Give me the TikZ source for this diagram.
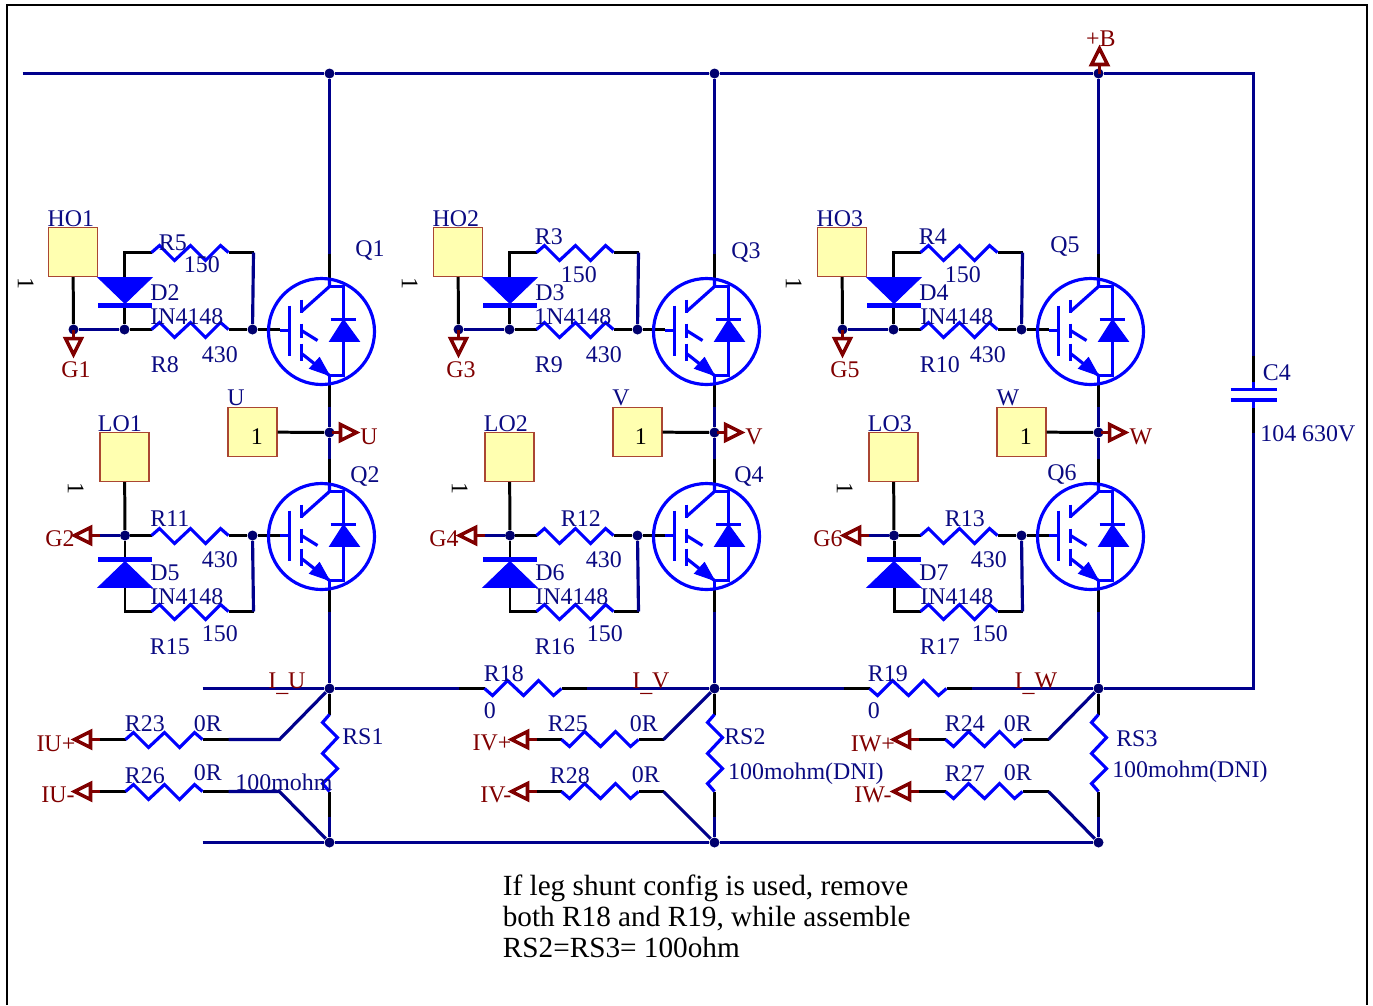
\documentclass[tikz,border=0pt]{standalone}
\usepackage{fontspec}
\setmainfont{Liberation Serif}
\definecolor{wirec}{RGB}{0,0,140}
\definecolor{dotc}{RGB}{0,0,110}
\definecolor{symc}{RGB}{0,0,255}
\definecolor{txtc}{RGB}{10,10,130}
\definecolor{portc}{RGB}{128,0,0}
\definecolor{padc}{RGB}{255,255,176}
\definecolor{padl}{RGB}{170,70,50}
\newcommand{\lowbar}{\raisebox{-1.6pt}{\_}}
\tikzset{
	wire/.style={draw=wirec,line width=1.8pt},
	pin/.style={draw=black,line width=1.7pt},
	sym/.style={draw=symc,line width=1.8pt},
	symfill/.style={fill=symc,draw=symc,line width=0.5pt},
	dot/.style={circle,fill=dotc,inner sep=0pt,minimum size=0.2cm},
	pad/.style={draw=padl,fill=padc,line width=0.7pt,minimum size=0.98cm,inner sep=0pt},
	lbl/.style={text=txtc,inner sep=0pt,xshift=-0.35pt,yshift=-0.3pt,font=\fontsize{13.6}{15}\selectfont,text height=9pt,text depth=0pt},
	portlbl/.style={lbl,text=portc},
	pinlbl/.style={lbl,text=black},
	resz/.pic={\draw[sym] (0,0) -- (8,-7) -- (23,8) -- (39,-7) -- (54,8) -- (69,-7) -- (77,0);},
	diodeg/.pic={
		\fill[symfill] (-27,-26) -- (27,-26) -- (0,0) -- cycle;
		\draw[sym,line width=2.8pt] (-27,2) -- (27,2);},
	portg/.pic={
		\draw[draw=portc,line width=2pt] (25,0) -- (16,0);
		\draw[draw=portc,line width=2pt,line join=miter] (0,0) -- (16,-8) -- (16,8) -- cycle;},
	igbt/.pic={
		\draw[sym] (-8,0) circle (53);
		\draw[sym] (-50,-1) -- (-40,-1);
		\draw[sym] (-40,-26) -- (-40,24);
		\draw[sym] (-28,-32) -- (-28,-19);
		\draw[sym] (-28,-8) -- (-28,6);
		\draw[sym] (-28,12) -- (-28,29);
		\draw[sym] (-28,-20) -- (0,-45) -- (0,-53);
		\draw[sym] (0,-45) -- (14,-45) -- (14,44) -- (0,44) -- (0,53);
		\draw[sym] (-28,-1) -- (-12,9);
		\draw[sym] (-28,22) -- (0,44);
		\fill[symfill] (-20,37) -- (-10,26) -- (0,44) -- cycle;
		\draw[sym] (1,-12) -- (26,-12);
		\fill[symfill] (14,-12) -- (0,10) -- (30,10) -- cycle;}
}
\begin{document}
\begin{tikzpicture}[x=0.02cm,y=-0.02cm]
	\useasboundingbox (-0.5,-0.5) rectangle (1372.5,1004.5);
	\draw[line width=1.5pt] (6.5,1004.5) -- (6.5,4.5) -- (1366.5,4.5) -- (1366.5,1004.5);
	\foreach \dx/\n in {0/1,385/2,769/3}{
		\begin{scope}[shift={(\dx,0)}]
			\node[dot] (top\n) at (329,73) {};
			\node[dot] (mid\n) at (329,688) {};
			\node[dot] (bot\n) at (329,842) {};
			\node[dot] (out\n) at (329,432) {};
			\node[dot] (ghi\n) at (73,329) {};
			\node[dot] (dhi\n) at (124,329) {};
			\node[dot] (qhi\n) at (252,329) {};
			\node[dot] (dlo\n) at (124.5,535) {};
			\node[dot] (qlo\n) at (252,535) {};
			\node[pad] (HO\n) at (72.5,251.5) {};
			\node[pad] (LO\n) at (124,456.5) {};
			\node[pad] (PH\n) at (252,431.5) {};
			\foreach \c/\x/\y in {ca/329/253,cb/329/286,cc/329/375,cd/329/406,ce/329/458,cf/329/491,cg/329/581,ch/329/611,
				ra/329/714,rb/329/791,rc/329/816,ua/124/252,ub/151/252,uc/228/252,ud/253/252,ue/124/277,uf/124/305,
				uh/151/329,ui/228/329,uj/279/329,la/124.5/561,lb/124.5/587,lc/124.5/611,ld/151/611,le/228/611,lf/253/611,
				lg/151/535,lh/228/535,li/279/535,lj/99/535}
				\coordinate (\c\n) at (\x,\y);
			\draw[wire] (top\n) -- (ca\n);
			\draw[pin] (ca\n) -- (cb\n);
			\draw[pin] (cc\n) -- (cd\n);
			\draw[wire] (cd\n) -- (out\n);
			\draw[wire] (out\n) -- (ce\n);
			\draw[pin] (ce\n) -- (cf\n);
			\draw[pin] (cg\n) -- (ch\n);
			\draw[wire] (ch\n) -- (mid\n);
			\draw[pin] (mid\n) -- (ra\n);
			\draw[pin] (rb\n) -- (rc\n);
			\draw[wire] (rc\n) -- (bot\n);
			\draw[pin] (PH\n) -- (out\n);
			\draw[pin] (HO\n) -- (ghi\n);
			\draw[wire] (ghi\n) -- (dhi\n);
			\draw[pin] (dhi\n) -- (uf\n);
			\draw[pin] (ue\n) -- (ua\n) -- (ub\n);
			\draw[pin] (uc\n) -- (ud\n);
			\draw[wire] (ud\n) -- (qhi\n);
			\draw[pin] (dhi\n) -- (uh\n);
			\draw[pin] (ui\n) -- (qhi\n);
			\draw[pin] (qhi\n) -- (uj\n);
			\draw[pin] (LO\n) -- (dlo\n);
			\draw[pin] (dlo\n) -- (la\n);
			\draw[pin] (lb\n) -- (lc\n) -- (ld\n);
			\draw[pin] (le\n) -- (lf\n);
			\draw[wire] (lf\n) -- (qlo\n);
			\draw[pin] (dlo\n) -- (lg\n);
			\draw[pin] (lh\n) -- (qlo\n);
			\draw[pin] (qlo\n) -- (li\n);
			\draw[wire] (lj\n) -- (dlo\n);
			\pic at (ub\n) {resz};
			\pic at (uh\n) {resz};
			\pic at (lg\n) {resz};
			\pic at (ld\n) {resz};
			\pic[rotate=-90,yscale=-1] at (ra\n) {resz};
			\pic at (124.5,303) {diodeg};
			\pic[yscale=-1] at (124.5,561) {diodeg};
			\pic at (329,331) {igbt};
			\pic at (329,536) {igbt};
			\pic[rotate=90] at (73,354) {portg};
			\pic at (74,535) {portg};
			\pic[rotate=180] at (356,432) {portg};
		\end{scope}
	}
	\coordinate (railw) at (22,73);
	\coordinate (raile) at (1253,73);
	\coordinate (capa) at (1253,355);
	\coordinate (capb) at (1253,388);
	\coordinate (capc) at (1253,400);
	\coordinate (capd) at (1253,432);
	\coordinate (sumw) at (202,688);
	\coordinate (sume) at (1253,688);
	\coordinate (retw) at (202,842);
	\draw[wire] (railw) -- (top1) -- (top2) -- (top3) -- (raile) -- (capa);
	\draw[pin] (capa) -- (capb);
	\draw[pin] (capc) -- (capd);
	\draw[wire] (capd) -- (sume) -- (mid3);
	\draw[sym] (1253,381) -- (capb);
	\draw[sym] (capc) -- (1253,407);
	\draw[sym] (1230,389) -- (1276,389);
	\draw[sym] (1230,399.5) -- (1276,399.5);
	\draw[wire] (retw) -- (bot1) -- (bot2) -- (bot3);
	\draw[wire] (sumw) -- (mid1) -- (458,688);
	\draw[wire] (586,688) -- (mid2) -- (843,688);
	\draw[wire] (971,688) -- (mid3);
	\foreach \ra in {458,843}{
		\draw[pin] (\ra,688) -- (\ra+26,688);
		\draw[pin] (\ra+103,688) -- (\ra+128,688);
		\pic[yscale=-1] at (\ra+26,688) {resz};
	}
	\foreach \n/\ap/\ra/\rb/\rc/\bd/\fl in {1/74/125/202/228/279/1,2/511/561/638/663/663/-1,3/893/945/1022/1048/1048/-1}{
		\foreach \y/\m/\j in {739/a/mid,791/b/bot}{
			\coordinate (s\m\n) at (\ap+25,\y);
			\coordinate (t\m\n) at (\ra,\y);
			\coordinate (u\m\n) at (\rb,\y);
			\coordinate (v\m\n) at (\rc,\y);
			\coordinate (w\m\n) at (\bd,\y);
			\draw[pin] (s\m\n) -- (t\m\n);
			\draw[pin] (u\m\n) -- (v\m\n);
			\draw[wire] (v\m\n) -- (w\m\n) -- (\j\n);
			\pic[yscale=\fl] at (t\m\n) {resz};
			\pic at (\ap,\y) {portg};
		}
	}
	\pic[rotate=-90] at (1099,48) {portg};
	\foreach [count=\i] \x/\y/\t in {
		71/218/HO1,120/423/LO1,236/397/U,173/242/R5,202/264/150,165/292/D2,187/316/IN4148,165/364/R8,220/354/430,370/248/Q1,
		170/518/R11,220/559/430,165/572/D5,187/596/IN4148,170/646/R15,220/633/150,365/474/Q2,
		456/218/HO2,506/423/LO2,621/397/V,549/236/R3,579/274/150,550/292/D3,573/316/1N4148,549/364/R9,604/354/430,746/250/Q3,
		581/518/R12,604/559/430,550/572/D6,572/596/IN4148,555/646/R16,605/633/150,749/474/Q4,
		840/218/HO3,890/423/LO3,1008/397/W,933/236/R4,963/274/150,934/292/D4,957/316/IN4148,940/364/R10,988/354/430,1065/244/Q5,
		965/518/R13,989/559/430,934/572/D7,957/596/IN4148,940/646/R17,990/633/150,1062/472/Q6,
		504/673/R18,490/710/0,888/673/R19,874/710/0,
		145/723/R23,208/723/0R,145/775/R26,208/772/0R,363/736/RS1,284/782/100mohm,
		568/723/R25,644/723/0R,570/775/R28,646/774/0R,745/736/RS2,806/771/100mohm(DNI),
		965/723/R24,1018/723/0R,965/773/R27,1018/772/0R,1137/738/RS3,1190/769/100mohm(DNI),
		1277/372/C4,1308/433/104 630V}
		\node[lbl] (lab\i) at (\x,\y) {\t};
	\foreach [count=\i] \x/\y/\t in {
		76/369/G1,461/369/G3,845/369/G5,60/538/G2,444/538/G4,828/538/G6,
		369/436/U,754/436/V,1141/436/W,1101/38/+B,
		287/680/I\lowbar U,651/680/I\lowbar V,1036/680/I\lowbar W,
		56/743/IU+,58/794/IU-,492/742/IV+,496/794/IV-,873/743/IW+,873/794/IW-}
		\node[portlbl] (net\i) at (\x,\y) {\t};
	\foreach [count=\i] \x/\y/\r/\t in {
		257/436/0/1,641/436/0/1,1026/436/0/1,26/282/-90/1,410/282/-90/1,794/282/-90/1,76/487/-90/1,460/487/-90/1,845/487/-90/1}
		\node[pinlbl,rotate=\r] (num\i) at (\x,\y) {\t};
	\node[anchor=north west,align=left,inner sep=0pt,text=black,font=\fontsize{16.65}{17.6}\selectfont] (note) at (502,874)
		{If leg shunt config is used, remove\\both R18 and R19, while assemble\\RS2=RS3= 100ohm};
\end{tikzpicture}
\end{document}
